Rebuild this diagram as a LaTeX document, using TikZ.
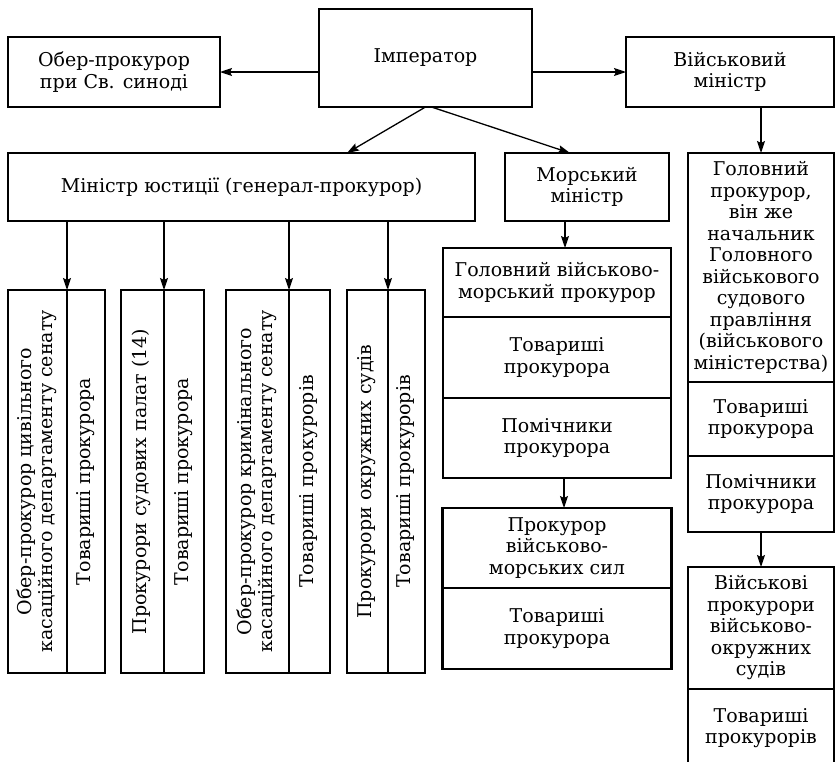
\documentclass[tikz,border=0pt]{standalone}
\usepackage{fontspec}
\setmainfont{DejaVu Serif}
\usepackage{graphicx}
\usepackage{tikz}
\usetikzlibrary{arrows.meta,positioning}

\newcommand{\txtsize}{\fontsize{19}{21.5}\selectfont}
\newcommand{\vtxt}[1]{\rotatebox{90}{\begin{tabular}{@{}c@{}}#1\end{tabular}}}

\begin{document}
\begin{tikzpicture}[
  x=1pt,y=-1pt,
  bx/.style={rectangle,draw,line width=2.7pt,outer sep=0pt,inner sep=1pt,
    align=center,font=\txtsize},
  cl/.style={bx,minimum height=383},
  ar/.style={-{Stealth[length=12pt,width=8pt,inset=2pt]},line width=1.3pt}
]
\useasboundingbox (0,0) rectangle (836,761);

\node[bx,minimum width=213,minimum height=98] (imp) at (425.5,58) {Імператор};
\node[bx,minimum width=212,minimum height=70] (ober) at (114,72) {Обер-прокурор\\при Св. синоді};
\node[bx,minimum width=208,minimum height=70] (vmin) at (730,72) {Військовий\\міністр};

\node[bx,minimum width=467,minimum height=68] (minjust) at (241.5,187) {Міністр юстиції (генерал-прокурор)};
\node[bx,minimum width=164,minimum height=68] (mormin) at (587,187) {Морський\\міністр};

\node[bx,minimum width=146,minimum height=229] (holpr) at (761,267.5)
  {Головний\\прокурор,\\він же\\начальник\\Головного\\військового\\судового\\правління\\(військового\\міністерства)};
\node[bx,minimum width=146,minimum height=74,below=0pt of holpr]  (holtov) {Товариші\\прокурора};
\node[bx,minimum width=146,minimum height=76,below=0pt of holtov] (holpom) {Помічники\\прокурора};
\node[bx,minimum width=146,minimum height=122,below=35pt of holpom] (vprok) {Військові\\прокурори\\військово-\\окружних\\судів};
\node[bx,minimum width=146,minimum height=78,below=0pt of vprok]  (vtov) {Товариші\\прокурорів};

\node[bx,minimum width=228,minimum height=69] (hvmp) at (557,282.5) {Головний військово-\\морський прокурор};
\node[bx,minimum width=228,minimum height=81,below=0pt of hvmp]  (mtov1) {Товариші\\прокурора};
\node[bx,minimum width=228,minimum height=80,below=0pt of mtov1] (mpom) {Помічники\\прокурора};
\node[bx,minimum width=229,minimum height=80,below=30pt of mpom] (pvms) {Прокурор\\військово-\\морських сил};
\node[bx,minimum width=229,minimum height=81,below=0pt of pvms]  (mtov2) {Товариші\\прокурора};

\node[cl,minimum width=59] (b1a) at (37.5,481.5) {\vtxt{Обер-прокурор цивільного\\касаційного департаменту сенату}};
\node[cl,minimum width=38,right=0pt of b1a] (b1b) {\vtxt{Товариші прокурора}};
\node[cl,minimum width=43] (b2a) at (142.5,481.5) {\vtxt{Прокурори судових палат (14)}};
\node[cl,minimum width=40,right=0pt of b2a] (b2b) {\vtxt{Товариші прокурора}};
\node[cl,minimum width=63] (b3a) at (257.5,481.5) {\vtxt{Обер-прокурор кримінального\\касаційного департаменту сенату}};
\node[cl,minimum width=41,right=0pt of b3a] (b3b) {\vtxt{Товариші прокурорів}};
\node[cl,minimum width=41] (b4a) at (367.5,481.5) {\vtxt{Прокурори окружних судів}};
\node[cl,minimum width=37,right=0pt of b4a] (b4b) {\vtxt{Товариші прокурорів}};

\draw[ar] (imp.west |- ober.east) -- (ober.east);
\draw[ar] (imp.east |- vmin.west) -- (vmin.west);
\draw[ar] (imp.south) -- ([xshift=105.5pt]minjust.north);
\draw[ar] ([xshift=6pt]imp.south) -- ([xshift=-17pt]mormin.north);
\draw[ar] (holpr.north |- vmin.south) -- (holpr.north);
\draw[ar] ([xshift=8pt]hvmp.north |- mormin.south) -- ([xshift=8pt]hvmp.north);
\draw[ar] ([xshift=7pt]mpom.south) -- ([xshift=7pt]mpom.south |- pvms.north);
\draw[ar] (holpom.south) -- (vprok.north);
\foreach \c in {b1a,b2a,b3a,b4a}
  \draw[ar] (\c.north east |- minjust.south) -- (\c.north east);
\end{tikzpicture}
\end{document}
